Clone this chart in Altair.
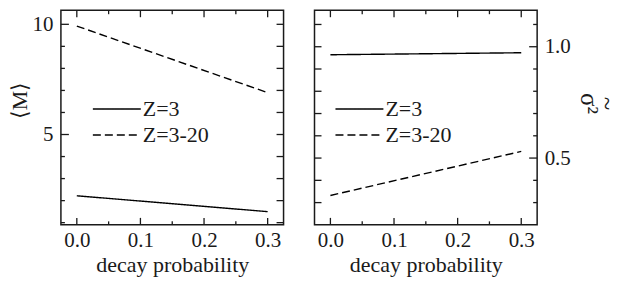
import altair as alt
import pandas as pd

# ---- data ----
prob = [0.0, 0.3]
M_z3 = [2.22, 1.50]
M_z3_20 = [9.92, 6.90]
sig_z3 = [0.964, 0.973]
sig_z3_20 = [0.332, 0.530]
series = ["Z=3", "Z=3-20"]

x_major = [0.0, 0.1, 0.2, 0.3]
x_minor = [0.05, 0.15, 0.25]
M_major = [5, 10]
M_minor = [1, 2, 3, 4, 6, 7, 8, 9]
s_major = [0.5, 1.0]
s_minor = [0.3, 0.4, 0.6, 0.7, 0.8, 0.9, 1.1]

FONT = "Liberation Serif, Times New Roman, Times, serif"
INK = "#1a1a1a"
W, H = 223, 215

xs = alt.Scale(domain=[-0.025, 0.325], nice=False, zero=False)
ys_M = alt.Scale(domain=[0.9, 10.64], nice=False, zero=False)
ys_s = alt.Scale(domain=[0.2, 1.164], nice=False, zero=False)

xaxis = alt.Axis(values=x_major, format=".1f", title="decay probability",
                 labelPadding=5, titlePadding=4)
yaxis_M = alt.Axis(values=M_major, format="d", title="⟨M⟩",
                   labelPadding=8, titleX=-41, titleY=90, titleBaseline="middle")
yaxis_s = alt.Axis(values=s_major, format=".1f", title=["~", "σ²"], orient="right",
                   labelPadding=7, titleX=69, titleY=93, titleBaseline="middle",
                   titleFontSize=25, titleLineHeight=18)


def lines_df(a, b):
    rows = []
    for name, vals in zip(series, [a, b]):
        for p, v in zip(prob, vals):
            rows.append({"p": p, "v": v, "series": name})
    return pd.DataFrame(rows)


def vticks(vals, scale, axis, x0, x1):
    return alt.Chart(pd.DataFrame({"v": vals})).mark_rule(
        color=INK, strokeWidth=1.3
    ).encode(y=alt.Y("v:Q", scale=scale, axis=axis),
             x=alt.value(x0), x2=alt.value(x1))


def hticks(vals, y0, y1):
    return alt.Chart(pd.DataFrame({"p": vals})).mark_rule(
        color=INK, strokeWidth=1.3
    ).encode(x=alt.X("p:Q", scale=xs, axis=xaxis),
             y=alt.value(y0), y2=alt.value(y1))


def panel(a, b, yscale, yaxis, legx):
    return alt.Chart(lines_df(a, b)).mark_line(color="black", strokeWidth=1.4).encode(
        x=alt.X("p:Q", scale=xs, axis=xaxis),
        y=alt.Y("v:Q", scale=yscale, axis=yaxis),
        strokeDash=alt.StrokeDash(
            "series:N",
            scale=alt.Scale(domain=series, range=[[1, 0], [8, 4]]),
            legend=alt.Legend(
                orient="none", legendX=legx + 13, legendY=88, title=None,
                symbolType="M-2.4,0H2.4", symbolSize=400, symbolStrokeWidth=1.4,
                symbolStrokeColor="black", labelFont=FONT, labelFontSize=22,
                labelColor=INK, labelOffset=15, rowPadding=4, padding=0,
            ),
        ),
    )


left = alt.layer(
    panel(M_z3, M_z3_20, ys_M, yaxis_M, 32),
    vticks(M_major, ys_M, yaxis_M, 0, 8), vticks(M_minor, ys_M, yaxis_M, 0, 4),
    vticks(M_major + M_minor, ys_M, yaxis_M, W - 7, W),
    hticks(x_major, H - 7, H), hticks(x_minor, H - 3.5, H),
    hticks(x_major, 0, 7), hticks(x_minor, 0, 4),
).properties(width=W, height=H)

right = alt.layer(
    panel(sig_z3, sig_z3_20, ys_s, yaxis_s, 21),
    vticks(s_major + s_minor, ys_s, yaxis_s, 0, 7),
    vticks(s_major, ys_s, yaxis_s, W - 8, W), vticks(s_minor, ys_s, yaxis_s, W - 4, W),
    hticks(x_major, H - 7, H), hticks(x_minor, H - 3.5, H),
    hticks(x_major, 0, 7), hticks(x_minor, 0, 4),
).properties(width=W, height=H)

chart = alt.hconcat(left, right, spacing=27).resolve_scale(
    strokeDash="independent"
).properties(
    padding={"left": 0, "top": 0, "right": 8, "bottom": 0}
).configure_view(
    stroke=INK, strokeWidth=1.5
).configure_axis(
    labelFont=FONT, labelFontSize=21, labelColor=INK,
    titleFont=FONT, titleFontSize=22, titleColor=INK, titleFontWeight="normal",
    ticks=False, domain=False, grid=False,
)

chart.save("out.html", embed_options={"renderer": "svg", "actions": False})
